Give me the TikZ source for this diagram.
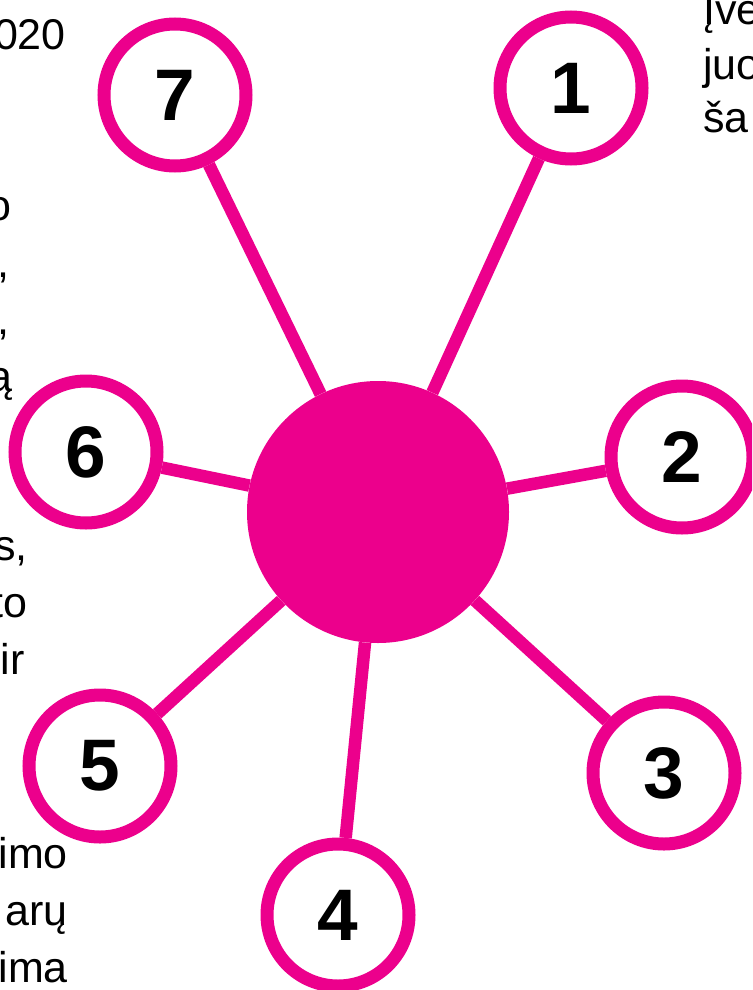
\documentclass[tikz,border=0pt]{standalone}
\usepackage{fontspec}
\setmainfont{Liberation Sans}
\definecolor{mag}{RGB}{236,0,140}
\tikzset{
  numcirc/.style={circle, draw=mag, fill=white, line width=13pt, minimum size=142pt, inner sep=0pt,
    font=\fontsize{73}{73}\selectfont\bfseries},
  hubcirc/.style={circle, fill=mag, minimum size=262pt, inner sep=0pt},
  spoke/.style={draw=mag, line width=12.5pt},
  txt/.style={inner sep=0pt, font=\fontsize{43}{52}\selectfont}
}
\begin{document}
\begin{tikzpicture}[x=1pt,y=-1pt]
\useasboundingbox (0,0) rectangle (752,990);
\clip (0,0) rectangle (752,990);
\fill[white] (0,0) rectangle (752,990);
% side text fragments
\node[txt, anchor=base east] (l1) at (66,49) {020};
\node[txt, anchor=base east] (l2) at (12,220) {o};
\node[txt, anchor=base east] (l3) at (10,277) {,};
\node[txt, anchor=base east] (l4) at (10,334) {,};
\node[txt, anchor=base east] (l5) at (13,391) {ą};
\node[txt, anchor=base east] (l6) at (28,560) {s,};
\node[txt, anchor=base east] (l7) at (28,617) {to};
\node[txt, anchor=base east] (l8) at (25,674) {ir};
\node[txt, anchor=base east] (l9) at (68,868) {imo};
\node[txt, anchor=base east] (l10) at (68,925) {arų};
\node[txt, anchor=base east] (l11) at (68,982) {ima};
\node[txt, anchor=base west] (r1) at (703,25) {Įve};
\node[txt, anchor=base west] (r2) at (703,80) {juo};
\node[txt, anchor=base west] (r3) at (703,132) {ša};
% hub and numbered circles
\node[hubcirc] (hub) at (378,512) {};
\node[numcirc] (n1) at (571,88) {1};
\node[numcirc] (n2) at (682,457) {2};
\node[numcirc] (n3) at (664,773) {3};
\node[numcirc] (n4) at (338,915) {4};
\node[numcirc] (n5) at (100,766) {5};
\node[numcirc] (n6) at (86,452) {6};
\node[numcirc] (n7) at (175,95) {7};
% spokes
\foreach \n in {n1,n2,n3,n4,n5,n6,n7}
  \draw[spoke] (hub) -- (\n);
\end{tikzpicture}
\end{document}
